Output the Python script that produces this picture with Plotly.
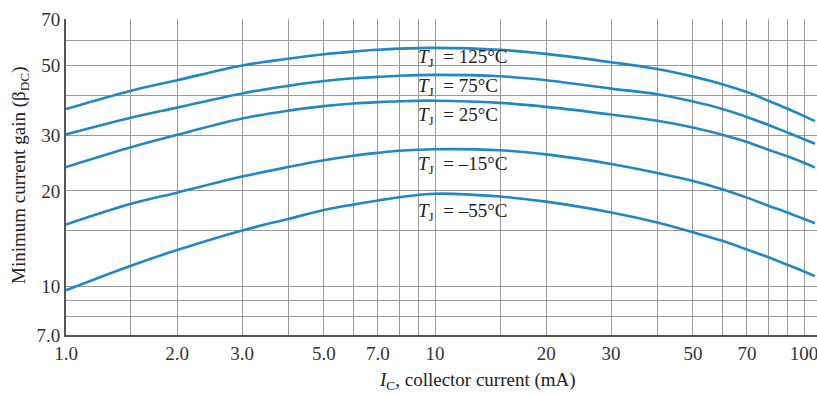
import plotly.graph_objects as go

# Collector current (mA)
ic = [1, 1.5, 2, 3, 4, 5, 6, 7, 8, 10, 15, 20, 30, 40, 50, 60, 70, 80, 90, 100, 107]

# Minimum current gain for each junction temperature
gain_125 = [36.3, 41.5, 44.8, 49.9, 52.4, 54.15, 55.2, 55.95, 56.4, 56.7, 55.9, 54.3, 51.1, 48.6, 46.0, 43.55, 41.1, 38.6, 36.45, 34.5, 33.25]
gain_75 = [30.2, 34.1, 36.7, 40.7, 43.0, 44.55, 45.45, 45.9, 46.3, 46.6, 46.1, 44.8, 42.15, 40.45, 38.35, 36.35, 34.3, 32.35, 30.65, 29.15, 28.2]
gain_25 = [23.8, 27.5, 30.1, 33.9, 35.9, 37.1, 37.8, 38.2, 38.45, 38.6, 38.0, 36.9, 34.9, 33.35, 31.75, 30.1, 28.55, 27.0, 25.75, 24.55, 23.7]
gain_m15 = [15.65, 18.2, 19.75, 22.2, 23.8, 25.0, 25.85, 26.4, 26.8, 27.1, 26.9, 26.1, 24.35, 22.8, 21.5, 20.25, 19.05, 17.95, 17.1, 16.3, 15.8]
gain_m55 = [9.7, 11.6, 13.0, 15.0, 16.3, 17.4, 18.1, 18.65, 19.1, 19.6, 19.2, 18.5, 17.1, 15.9, 14.8, 13.9, 13.05, 12.33, 11.68, 11.12, 10.75]

series = [gain_125, gain_75, gain_25, gain_m15, gain_m55]
labels = ["125°C", "75°C", "25°C", "–15°C", "–55°C"]
label_y_px = [58, 87, 116, 165, 212]

x_major = [1, 2, 3, 5, 7, 10, 20, 30, 50, 70, 100]
x_text = ["1.0", "2.0", "3.0", "5.0", "7.0", "10", "20", "30", "50", "70", "100"]
x_minor = [1.5, 4, 6, 8, 9, 15, 40, 60, 80, 90]
y_major = [7, 10, 20, 30, 50, 70]
y_text = ["7.0", "10", "20", "30", "50", "70"]
y_minor = [8, 9, 15, 40, 60]

W, H = 817, 394
L, R, T, B = 66, 0, 19, 59
pw, ph = W - L - R, H - T - B

line_color = "#2187c6"
font_family = "Liberation Serif"
grid_color = "#9a9a9a"

fig = go.Figure()
for g in series:
    fig.add_trace(go.Scatter(x=ic, y=g, mode="lines", line=dict(color=line_color, width=2.6, shape="spline", smoothing=1.0),
                             showlegend=False, hoverinfo="skip"))

for lab, py in zip(labels, label_y_px):
    fig.add_annotation(x=(416 - L) / pw, y=(H - B - py) / ph, xref="paper", yref="paper",
                       text="<i>T</i><sub>J</sub>&nbsp; = " + lab, showarrow=False, xanchor="left", yanchor="middle",
                       font=dict(family=font_family, size=19, color="#222"))

fig.add_annotation(x=(477 - L) / pw, y=-(381 - (H - B)) / ph, xref="paper", yref="paper",
                   text="<i>I</i><sub>C</sub>, collector current (mA)", showarrow=False, xanchor="center", yanchor="middle",
                   font=dict(family=font_family, size=19, color="#222"))
fig.add_annotation(x=-(L - 20) / pw, y=(H - B - 175) / ph, xref="paper", yref="paper",
                   text="Minimum current gain (β<sub>DC</sub>)", showarrow=False, textangle=-90,
                   xanchor="center", yanchor="middle",
                   font=dict(family=font_family, size=19, color="#222"))

axis_common = dict(showgrid=True, gridcolor=grid_color, gridwidth=1.2, showline=True, linecolor="#555",
                   linewidth=2, ticks="", zeroline=False, automargin=False, ticklabeloverflow="allow",
                   tickfont=dict(family=font_family, size=19, color="#333"))

fig.update_xaxes(type="log", range=[0, 2.035], tickmode="array", tickvals=x_major, ticktext=x_text,
                 minor=dict(tickmode="array", tickvals=x_minor, showgrid=True, gridcolor=grid_color, gridwidth=1.2, ticks=""),
                 **axis_common)
fig.update_yaxes(type="log", range=[0.845098, 1.845098], tickmode="array", tickvals=y_major, ticktext=y_text,
                 minor=dict(tickmode="array", tickvals=y_minor, showgrid=True, gridcolor=grid_color, gridwidth=1.2, ticks=""),
                 **axis_common)

fig.update_layout(width=W, height=H, margin=dict(l=L, r=R, t=T, b=B, autoexpand=False),
                  paper_bgcolor="white", plot_bgcolor="white", font=dict(family=font_family))
fig.write_html("out.html", config={"displayModeBar": False},
               post_script="document.body.style.margin='0';document.body.style.overflow='hidden';")
